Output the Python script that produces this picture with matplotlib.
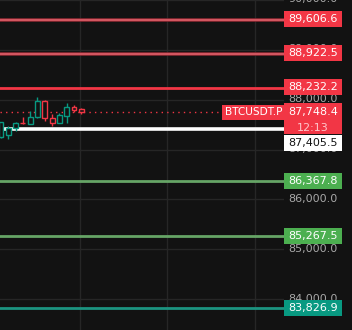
import numpy as np
import matplotlib.pyplot as plt
from matplotlib.patches import Rectangle
from matplotlib.transforms import blended_transform_factory

# candles
opens = [87246, 87294, 87426, 87540, 87514, 87646, 87980, 87634, 87540, 87674, 87860, 87814]
closes = [87546, 87426, 87534, 87530, 87660, 87980, 87634, 87526, 87694, 87860, 87800, 87748.4]
highs = [87560, 87480, 87560, 87660, 87780, 88046, 87990, 87714, 87726, 87934, 87900, 87830]
lows = [87230, 87206, 87380, 87514, 87510, 87640, 87566, 87480, 87526, 87526, 87760, 87714]

# horizontal levels and their label colours
level_prices = [89606.6, 88922.5, 88232.2, 86367.8, 85267.5, 83826.9]
level_labels = ["89,606.6", "88,922.5", "88,232.2", "86,367.8", "85,267.5", "83,826.9"]
level_box_colors = ["#f23645", "#f23645", "#f23645", "#4caf50", "#4caf50", "#089981"]
level_line_colors = ["#e0606a", "#e0606a", "#f23645", "#66a566", "#66a566", "#1c9480"]

white_level = 87405.5
white_label = "87,405.5"
last_price = 87748.4
last_label = "87,748.4"
countdown = "12:13"
symbol = "BTCUSDT.P"

axis_prices = [84000, 85000, 86000, 87000, 88000, 89000, 90000]
axis_labels = ["84,000.0", "85,000.0", "86,000.0", "87,000.0", "88,000.0", "89,000.0", "90,000.0"]

BG = "#121212"
GRID = "#262626"
UP = "#089981"
DOWN = "#f23645"
YLIM = (83380, 89980)
PX = 20.0  # price units per pixel

fig = plt.figure(figsize=(3.52, 3.30), dpi=100)
fig.patch.set_facecolor(BG)

ax = fig.add_axes([0, 0, 284 / 352, 1])
ax.set_facecolor(BG)
ax.set_xlim(-0.137, 38.77)
ax.set_ylim(*YLIM)
for s in ax.spines.values():
    s.set_visible(False)
ax.set_xticks([10.8, 22.8, 34.8])
ax.set_yticks(axis_prices)
ax.tick_params(length=0, labelbottom=False, labelleft=False)
ax.grid(True, color=GRID, lw=1)
ax.set_axisbelow(True)

# level lines
for i, (p, c) in enumerate(zip(level_prices, level_line_colors)):
    if i < 2:
        ax.axhline(p, color="#8e2a33", lw=2.6, zorder=2)
        ax.axhline(p, color=c, lw=1.2, zorder=2)
    else:
        ax.axhline(p, color=c, lw=2, zorder=2)
ax.axhline(white_level, color="white", lw=2.6, zorder=2)

# candles
w = 0.66
for i in range(len(opens)):
    o, c, h, l = opens[i], closes[i], highs[i], lows[i]
    col = UP if c >= o else DOWN
    ax.vlines(i, l, h, color=col, lw=1, zorder=3)
    lo, hi = min(o, c), max(o, c)
    ax.add_patch(Rectangle((i - w / 2, lo), w, max(hi - lo, 10), facecolor=BG,
                           edgecolor=col, lw=1, zorder=4))

# last price dotted line + symbol label
ax.hlines(last_price, -0.2, 29.7, colors=DOWN, lw=1, linestyles=(0, (1, 3)), zorder=2)
tr = blended_transform_factory(ax.transAxes, ax.transData)
ax.text(0.993, last_price, symbol, transform=tr, ha="right", va="center", fontsize=7.6,
        color="white", zorder=6,
        bbox=dict(boxstyle="square,pad=0.25", fc=DOWN, ec="none"))

# price scale
pax = fig.add_axes([284 / 352, 0, 68 / 352, 1])
pax.set_facecolor(BG)
pax.set_xlim(0, 68)
pax.set_ylim(*YLIM)
pax.axis("off")
for p, t in zip(axis_prices, axis_labels):
    pax.text(29, p, t, ha="center", va="center", fontsize=8, color="#a8a8a8", zorder=1)

box_h = 16 * PX
for p, t, c in zip(level_prices, level_labels, level_box_colors):
    pax.add_patch(Rectangle((0, p - box_h / 2), 58, box_h, fc=c, ec="none", zorder=3))
    pax.text(29, p, t, ha="center", va="center", fontsize=8, color="white", zorder=4)

# white label pushed below the current-price box
wy = last_price - 375 * 1.0 - 250
pax.add_patch(Rectangle((0, wy - box_h / 2), 58, box_h, fc="white", ec="none", zorder=3))
pax.text(29, wy, white_label, ha="center", va="center", fontsize=8, color="#131313", zorder=4)

# current price box with countdown
top = last_price + 8.5 * PX
bot = last_price - 22.5 * PX
pax.add_patch(Rectangle((0, bot), 58, top - bot, fc=DOWN, ec="none", zorder=5))
pax.text(29, last_price, last_label, ha="center", va="center", fontsize=8, color="white", zorder=6)
pax.text(29, last_price - 16 * PX, countdown, ha="center", va="center", fontsize=8,
         color="#ffc6cb", zorder=6)

fig.savefig("out.png", dpi=100, facecolor=BG)
